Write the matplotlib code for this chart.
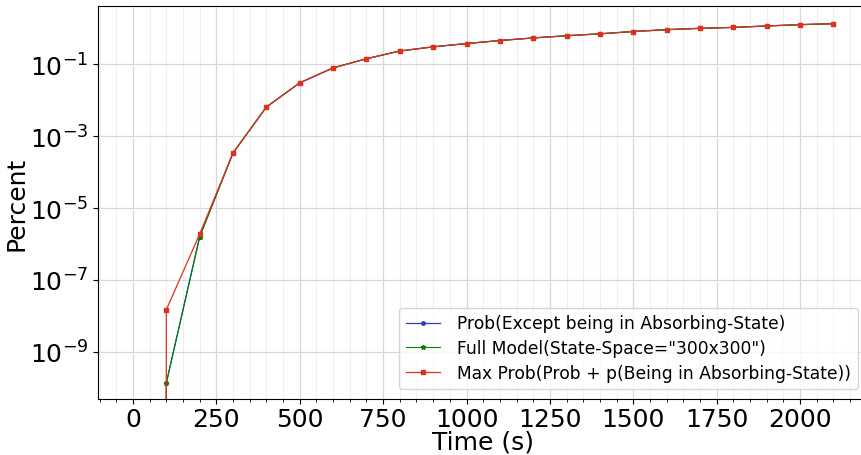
import numpy as np
import matplotlib
matplotlib.use("Agg")
import matplotlib.pyplot as plt
from matplotlib.ticker import AutoMinorLocator, NullLocator

# data (x=0 is a zero value, clipped on log scale)
time_s = [0, 100, 200, 300, 400, 500, 600, 700, 800, 900, 1000, 1100,
          1200, 1300, 1400, 1500, 1600, 1700, 1800, 1900, 2000, 2100]
prob_except = [0, 1.4e-10, 1.6e-6, 3.4e-4, 6.4e-3, 0.030, 0.078, 0.14, 0.23,
               0.30, 0.37, 0.45, 0.53, 0.61, 0.69, 0.80, 0.90, 0.98, 1.04,
               1.14, 1.24, 1.32]
full_model = [0, 1.4e-10, 1.6e-6, 3.4e-4, 6.4e-3, 0.030, 0.078, 0.14, 0.23,
              0.30, 0.37, 0.45, 0.53, 0.61, 0.69, 0.80, 0.90, 0.98, 1.04,
              1.14, 1.24, 1.32]
max_prob = [0, 1.5e-8, 1.9e-6, 3.4e-4, 6.4e-3, 0.030, 0.078, 0.14, 0.23,
            0.30, 0.37, 0.45, 0.53, 0.61, 0.69, 0.80, 0.90, 0.98, 1.04,
            1.14, 1.24, 1.32]

labels = ['Prob(Except being in Absorbing-State)',
          'Full Model(State-Space="300x300")',
          'Max Prob(Prob + p(Being in Absorbing-State))']

fig = plt.figure(figsize=(8.61, 4.56), dpi=100)
ax = fig.add_axes([0.1138, 0.1228, 0.8948, 0.8618])

ax.plot(time_s, prob_except, color="#2b3fb0", marker=".", markersize=5, linewidth=0.9, label=labels[0])
ax.plot(time_s, full_model, color="green", marker="*", markersize=3.5, linewidth=0.8, label=labels[1])
ax.plot(time_s, max_prob, color="#e0301e", marker="s", markersize=3.3, linewidth=0.9, label=labels[2])

ax.set_yscale("log", nonpositive="clip")
ax.set_xlim(-105, 2205)
ax.set_ylim(10**-10.306, 10**0.611)
ax.set_yticks([1e-9, 1e-7, 1e-5, 1e-3, 1e-1])
ax.yaxis.set_minor_locator(NullLocator())
ax.set_xticks([0, 250, 500, 750, 1000, 1250, 1500, 1750, 2000])
ax.xaxis.set_minor_locator(AutoMinorLocator(5))

ax.grid(which="major", color="#d8d8d8", linewidth=0.9)
ax.grid(which="minor", axis="x", color="#efefef", linewidth=0.8)
ax.set_axisbelow(True)

ax.tick_params(axis="y", labelsize=18)
ax.tick_params(axis="x", labelsize=18, pad=2)
ax.set_xlabel("Time (s)", fontsize=18, labelpad=-1)
ax.set_ylabel("Percent", fontsize=18, labelpad=1)

ax.legend(loc="lower right", fontsize=12.3, handlelength=2.0, handletextpad=1.0,
          labelspacing=0.4, borderaxespad=0,
          bbox_to_anchor=(858 / 861, 1 - 390 / 456), bbox_transform=fig.transFigure)

fig.savefig("out.png", dpi=100)
